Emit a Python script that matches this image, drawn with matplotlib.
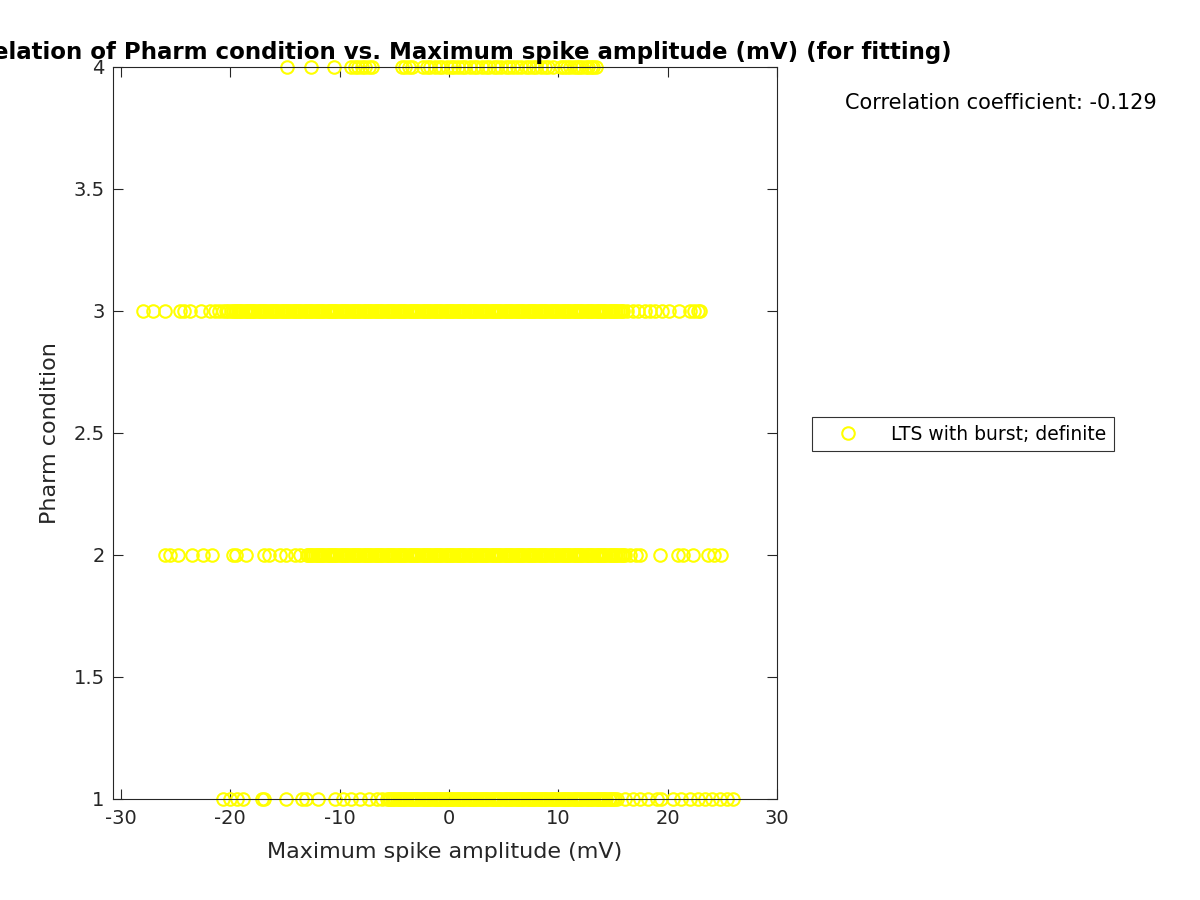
import matplotlib
matplotlib.use("Agg")
import matplotlib.pyplot as plt

plt.rcParams['axes.unicode_minus'] = False

amp_cond1 = [-20.7, -20.0, -19.4, -18.8, -17.1, -16.9, -14.9, -13.4, -13.1, -12.0, -10.4, -9.7, -9.0, -8.1,
             -7.3, -6.6, -6.1,
             -5.7, -5.5, -5.4, -5.2, -5.1, -4.9, -4.8, -4.6, -4.5, -4.3, -4.2, -4.0, -3.9, -3.7, -3.6, -3.4,
             -3.3, -3.1, -3.0, -2.8, -2.7, -2.5, -2.4, -2.2, -2.1, -1.9, -1.8, -1.6, -1.5, -1.3, -1.2, -1.0,
             -0.9, -0.7, -0.6, -0.4, -0.3, -0.1, 0.0, 0.2, 0.3, 0.5, 0.6, 0.8, 0.9, 1.1, 1.2, 1.4, 1.5, 1.7,
             1.8, 2.0, 2.1, 2.3, 2.4, 2.6, 2.7, 2.9, 3.0, 3.2, 3.3, 3.5, 3.6, 3.8, 3.9, 4.1, 4.2, 4.4, 4.5,
             4.7, 4.8, 5.0, 5.1, 5.3, 5.4, 5.6, 5.7, 5.9, 6.0, 6.2, 6.3, 6.5, 6.6, 6.8, 6.9, 7.1, 7.2, 7.4,
             7.5, 7.7, 7.8, 8.0, 8.1, 8.3, 8.4, 8.6, 8.7, 8.9, 9.0, 9.2, 9.3, 9.5, 9.6, 9.8, 9.9, 10.1, 10.2,
             10.4, 10.5, 10.7, 10.8, 11.0, 11.1, 11.3, 11.4, 11.6, 11.7, 11.9, 12.0, 12.2, 12.3, 12.5, 12.6,
             12.8, 12.9, 13.1, 13.2, 13.4, 13.5, 13.7, 13.8, 14.0, 14.1, 14.3, 14.4, 14.6, 14.7, 14.9, 15.0,
             15.2, 15.4,
             16.1, 16.8, 17.5, 18.2, 19.0, 19.4, 20.5, 21.2, 22.0, 22.8, 23.4, 24.1, 24.8, 25.4, 26.0]

amp_cond2 = [-26.0, -25.5, -24.8, -23.5, -22.5, -21.7, -19.8, -19.5, -18.6, -16.9, -16.5, -15.5, -14.9,
             -14.1, -13.6,
             -13.0, -12.9, -12.7, -12.6, -12.4, -12.3, -12.1, -12.0, -11.8, -11.7, -11.5, -11.4, -11.2,
             -11.1, -10.9, -10.8, -10.6, -10.5, -10.3, -10.2, -10.0, -9.9, -9.7, -9.6, -9.4, -9.3, -9.1,
             -9.0, -8.8, -8.7, -8.5, -8.4, -8.2, -8.1, -7.9, -7.8, -7.6, -7.5, -7.3, -7.2, -7.0, -6.9, -6.7,
             -6.6, -6.4, -6.3, -6.1, -6.0, -5.8, -5.7, -5.5, -5.4, -5.2, -5.1, -4.9, -4.8, -4.6, -4.5, -4.3,
             -4.2, -4.0, -3.9, -3.7, -3.6, -3.4, -3.3, -3.1, -3.0, -2.8, -2.7, -2.5, -2.4, -2.2, -2.1, -1.9,
             -1.8, -1.6, -1.5, -1.3, -1.2, -1.0, -0.9, -0.7, -0.6, -0.4, -0.3, -0.1, 0.0, 0.2, 0.3, 0.5,
             0.6, 0.8, 0.9, 1.1, 1.2, 1.4, 1.5, 1.7, 1.8, 2.0, 2.1, 2.3, 2.4, 2.6, 2.7, 2.9, 3.0, 3.2, 3.3,
             3.5, 3.6, 3.8, 3.9, 4.1, 4.2, 4.4, 4.5, 4.7, 4.8, 5.0, 5.1, 5.3, 5.4, 5.6, 5.7, 5.9, 6.0, 6.2,
             6.3, 6.5, 6.6, 6.8, 6.9, 7.1, 7.2, 7.4, 7.5, 7.7, 7.8, 8.0, 8.1, 8.3, 8.4, 8.6, 8.7, 8.9, 9.0,
             9.2, 9.3, 9.5, 9.6, 9.8, 9.9, 10.1, 10.2, 10.4, 10.5, 10.7, 10.8, 11.0, 11.1, 11.3, 11.4, 11.6,
             11.7, 11.9, 12.0, 12.2, 12.3, 12.5, 12.6, 12.8, 12.9, 13.1, 13.2, 13.4, 13.5, 13.7, 13.8, 14.0,
             14.1, 14.3, 14.4, 14.6, 14.7, 14.9, 15.0, 15.2, 15.3, 15.5, 15.6, 15.8, 15.9, 16.1,
             16.6, 17.1, 17.5, 19.3, 20.9, 21.4, 22.3, 23.7, 24.2, 24.9]

amp_cond3 = [-28.0, -27.1, -26.0, -24.6, -24.2, -23.7, -22.7, -21.9,
             -21.4, -21.0, -20.7, -20.4, -20.2, -19.9, -19.8, -19.6, -19.5, -19.3, -19.2, -19.0, -18.9,
             -18.7, -18.6, -18.4, -18.3, -18.1, -18.0, -17.8, -17.7, -17.5, -17.4, -17.2, -17.1, -16.9,
             -16.8, -16.6, -16.5, -16.3, -16.2, -16.0, -15.9, -15.7, -15.6, -15.4, -15.3, -15.1, -15.0,
             -14.8, -14.7, -14.5, -14.4, -14.2, -14.1, -13.9, -13.8, -13.6, -13.5, -13.3, -13.2, -13.0,
             -12.9, -12.7, -12.6, -12.4, -12.3, -12.1, -12.0, -11.8, -11.7, -11.5, -11.4, -11.2, -11.1,
             -10.9, -10.8, -10.6, -10.5, -10.3, -10.2, -10.0, -9.9, -9.7, -9.6, -9.4, -9.3, -9.1, -9.0,
             -8.8, -8.7, -8.5, -8.4, -8.2, -8.1, -7.9, -7.8, -7.6, -7.5, -7.3, -7.2, -7.0, -6.9, -6.7, -6.6,
             -6.4, -6.3, -6.1, -6.0, -5.8, -5.7, -5.5, -5.4, -5.2, -5.1, -4.9, -4.8, -4.6, -4.5, -4.3, -4.2,
             -4.0, -3.9, -3.7, -3.6, -3.4, -3.3, -3.1, -3.0, -2.8, -2.7, -2.5, -2.4, -2.2, -2.1, -1.9, -1.8,
             -1.6, -1.5, -1.3, -1.2, -1.0, -0.9, -0.7, -0.6, -0.4, -0.3, -0.1, 0.0, 0.2, 0.3, 0.5, 0.6,
             0.8, 0.9, 1.1, 1.2, 1.4, 1.5, 1.7, 1.8, 2.0, 2.1, 2.3, 2.4, 2.6, 2.7, 2.9, 3.0, 3.2, 3.3, 3.5,
             3.6, 3.8, 3.9, 4.1, 4.2, 4.4, 4.5, 4.7, 4.8, 5.0, 5.1, 5.3, 5.4, 5.6, 5.7, 5.9, 6.0, 6.2, 6.3,
             6.5, 6.6, 6.8, 6.9, 7.1, 7.2, 7.4, 7.5, 7.7, 7.8, 8.0, 8.1, 8.3, 8.4, 8.6, 8.7, 8.9, 9.0, 9.2,
             9.3, 9.5, 9.6, 9.8, 9.9, 10.1, 10.2, 10.4, 10.5, 10.7, 10.8, 11.0, 11.1, 11.3, 11.4, 11.6,
             11.7, 11.9, 12.0, 12.2, 12.3, 12.5, 12.6, 12.8, 12.9, 13.1, 13.2, 13.4, 13.5, 13.7, 13.8,
             14.0, 14.1, 14.3, 14.4, 14.6, 14.7, 14.9, 15.0, 15.2, 15.3, 15.5, 15.6, 15.8, 15.9,
             16.3, 16.8, 17.3, 17.9, 18.4, 18.8, 19.5, 20.1, 21.0, 22.0, 22.4, 22.8, 23.0]

amp_cond4 = [-14.8, -12.6, -10.5, -9.0, -8.6, -8.3, -8.0, -7.7, -7.3, -7.0, -4.3, -4.0, -3.7, -3.4,
             -2.4, -2.0, -1.7, -1.3, -0.9, -0.6, -0.2, 0.2, 0.5, 0.8, 1.2, 1.5, 1.9, 2.3, 2.6, 3.0, 3.4,
             3.7, 4.1, 4.4, 4.8, 5.2, 5.5, 5.9, 6.2, 6.6, 7.0, 7.3, 7.7, 8.0, 8.4, 8.8, 9.1, 9.5, 10.2,
             10.5, 10.8, 11.1, 11.4, 11.7, 11.9, 12.2, 12.5, 12.7, 13.0, 13.2, 13.4]

pharm_levels = [1, 2, 3, 4]
amplitudes = [amp_cond1, amp_cond2, amp_cond3, amp_cond4]

corr_coef = -0.129
legend_label = "LTS with burst; definite"

fig = plt.figure(figsize=(12, 9), dpi=100)
ax = fig.add_axes([113 / 1200, 1 - 799 / 900, (777 - 113) / 1200, (799 - 67) / 900])

for i, (nivel, amps) in enumerate(zip(pharm_levels, amplitudes)):
    ax.plot(amps, [nivel] * len(amps), linestyle='none', marker='o', markersize=9,
            markerfacecolor='none', markeredgecolor=(1, 1, 0), markeredgewidth=1.5,
            label=legend_label if i == 0 else None, clip_on=False)

ax.set_xlim(-30.73, 30)
ax.set_ylim(1, 4)
ax.set_xticks([-30, -20, -10, 0, 10, 20, 30])
ax.set_yticks([1, 1.5, 2, 2.5, 3, 3.5, 4])
ax.set_yticklabels(['1', '1.5', '2', '2.5', '3', '3.5', '4'])
ax.tick_params(direction='in', top=True, right=True, labelsize=14, colors='0.15', length=7)
ax.tick_params(axis='x', pad=7)
ax.tick_params(axis='y', pad=6)
for s in ax.spines.values():
    s.set_color('0.15')

ax.set_xlabel('Maximum spike amplitude (mV)', fontsize=16, color='0.15', labelpad=10)
ax.set_ylabel('Pharm condition', fontsize=16, color='0.15', labelpad=10)
ax.set_title('Correlation of Pharm condition vs. Maximum spike amplitude (mV) (for fitting)',
             fontsize=16.5, fontweight='bold', pad=6)

fig.text(845 / 1200, 1 - 103 / 900, f'Correlation coefficient: {corr_coef}', fontsize=15,
         ha='left', va='center')

leg = fig.legend(loc='center left', bbox_to_anchor=(812 / 1200, 1 - 434 / 900), fontsize=13.5,
                 frameon=True, fancybox=False, edgecolor='black', handlelength=3,
                 borderpad=0.4, borderaxespad=0)
leg.get_frame().set_linewidth(0.8)

fig.savefig('out.png')
